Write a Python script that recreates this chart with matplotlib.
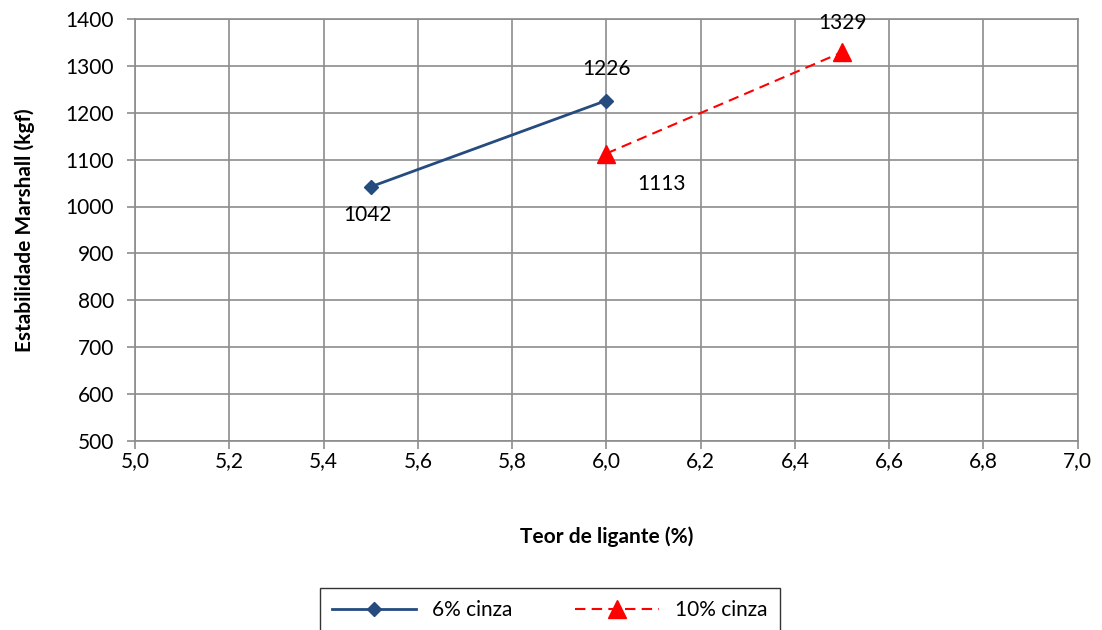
import matplotlib.pyplot as plt

plt.rcParams["font.family"] = ["Lato", "DejaVu Sans"]

x_6 = [5.5, 6.0]
y_6 = [1042, 1226]
x_10 = [6.0, 6.5]
y_10 = [1113, 1329]
x_ticks = [5.0, 5.2, 5.4, 5.6, 5.8, 6.0, 6.2, 6.4, 6.6, 6.8, 7.0]
y_ticks = [500, 600, 700, 800, 900, 1000, 1100, 1200, 1300, 1400]

FS = 15

fig = plt.figure(figsize=(11.02, 6.3), dpi=100)
ax = fig.add_axes([0.1225, 0.30, 0.8555, 0.67])

ax.plot(x_6, y_6, color="#254b7f", lw=2, marker="D", ms=7, label="6% cinza", zorder=3)
ax.plot(x_10, y_10, color="#ff0000", lw=1.5, ls=(0, (5, 3)), marker="^", ms=13,
        label="10% cinza", zorder=3)

ax.set_xlim(5.0, 7.0)
ax.set_ylim(500, 1400)
ax.set_xticks(x_ticks)
ax.set_xticklabels([f"{v:.1f}".replace(".", ",") for v in x_ticks])
ax.set_yticks(y_ticks)
ax.grid(True, color="#8c8c8c", lw=1.2)
for s in ax.spines.values():
    s.set_color("#8c8c8c")
    s.set_linewidth(1.2)
ax.tick_params(axis="both", colors="#8c8c8c", labelcolor="black", labelsize=FS,
               length=6, width=1.2)
ax.tick_params(axis="x", pad=1)
ax.tick_params(axis="y", pad=9)

ax.set_xlabel("Teor de ligante (%)", fontsize=FS, fontweight="bold", labelpad=40)
ax.set_ylabel("Estabilidade Marshall (kgf)", fontsize=FS, fontweight="bold", labelpad=22)

# rótulos de dados
offsets = [(-2, -20), (0, 23)]
for xi, yi, (dx, dy) in zip(x_6, y_6, offsets):
    ax.annotate(str(yi), (xi, yi), xytext=(dx, dy), textcoords="offset points",
                ha="center", va="center", fontsize=FS)
offsets = [(40, -22), (0, 21)]
for xi, yi, (dx, dy) in zip(x_10, y_10, offsets):
    ax.annotate(str(yi), (xi, yi), xytext=(dx, dy), textcoords="offset points",
                ha="center", va="center", fontsize=FS)

leg = fig.legend(loc="upper center", bbox_to_anchor=(550 / 1102, 1 - 588 / 630),
                 ncol=2, fontsize=FS, frameon=True, fancybox=False, handlelength=4,
                 columnspacing=3.0, borderpad=0.6, borderaxespad=0)
leg.get_frame().set_edgecolor("black")
leg.get_frame().set_linewidth(1.0)

fig.savefig("out.png", dpi=100)
